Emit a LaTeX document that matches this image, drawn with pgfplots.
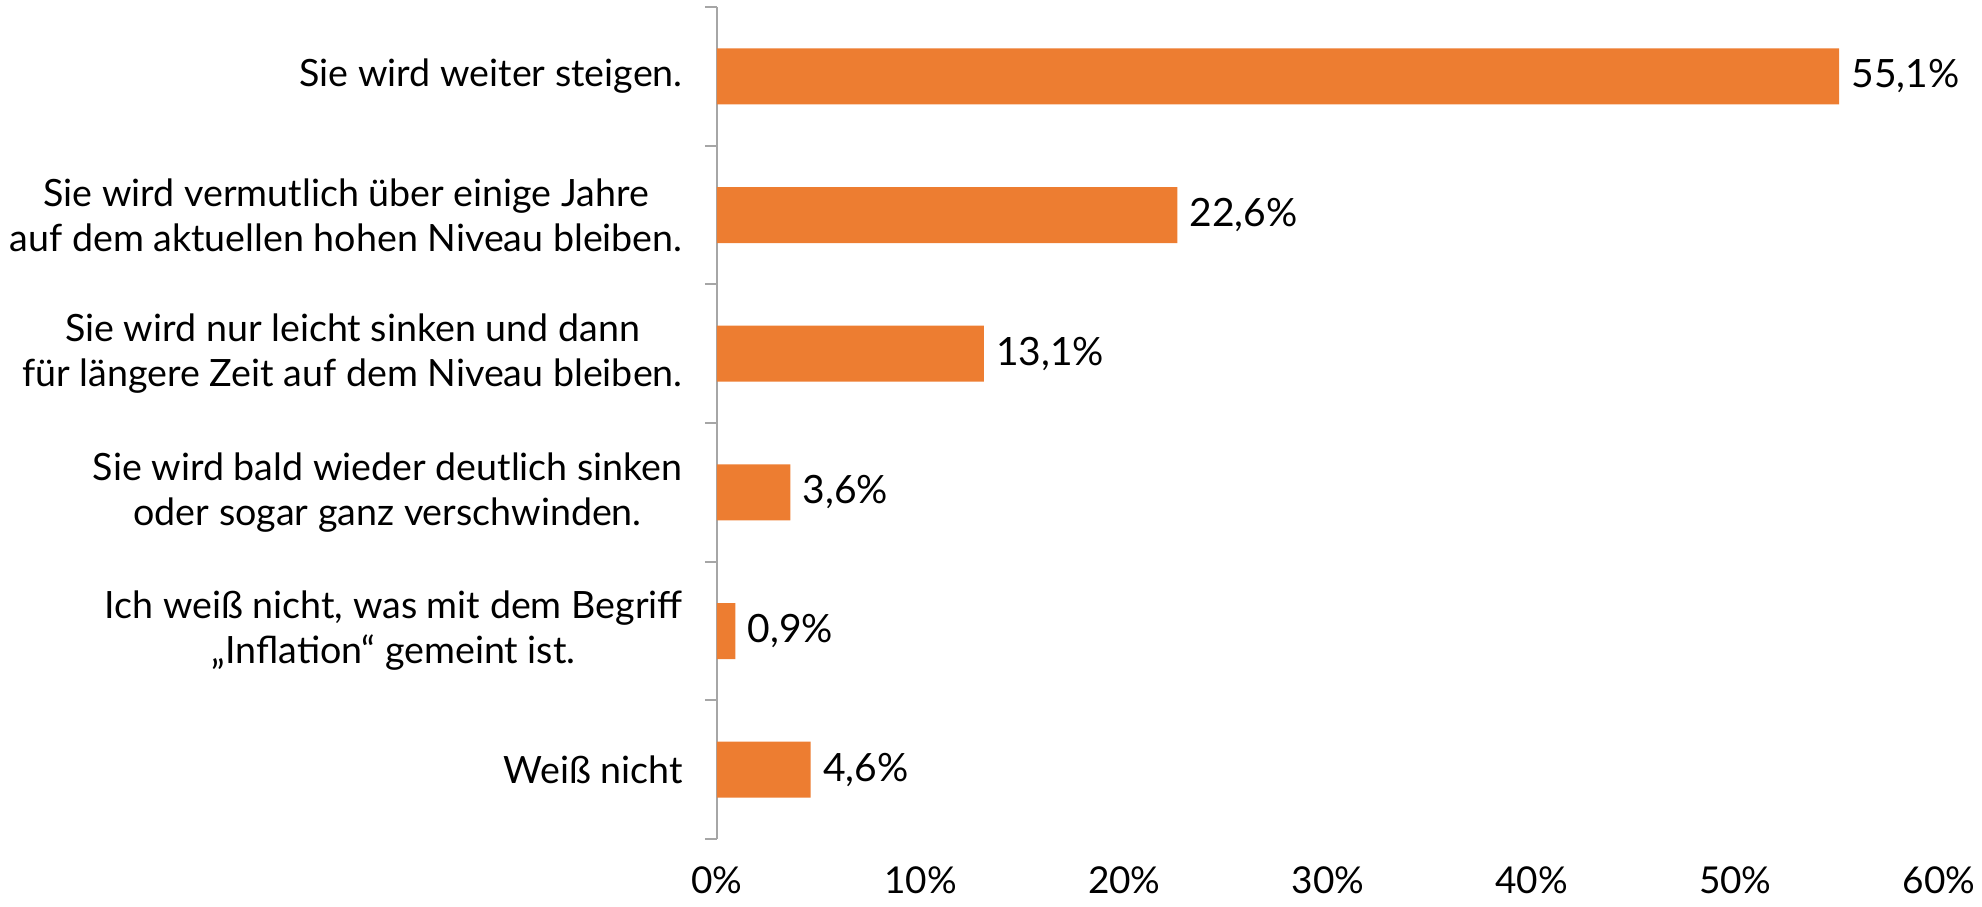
\documentclass[border=0pt]{standalone}
\usepackage{pgfplots}
\pgfplotsset{compat=1.18}
\usepackage{fontspec}
\setmainfont{Lato}
\definecolor{barorange}{HTML}{ED7D31}
\definecolor{axgray}{HTML}{A6A6A6}
\begin{document}
\begin{tikzpicture}
\begin{axis}[
  at={(358.5pt,33.5pt)}, anchor=south west,
  scale only axis, width=611pt, height=416pt,
  xmin=0, xmax=60, ymin=-0.5, ymax=5.5, y dir=reverse,
  xbar, bar width=28pt,
  axis x line=bottom, axis y line=left, axis line style={-},
  x axis line style={draw=none},
  y axis line style={draw=axgray, line width=1pt},
  xtick={0,10,...,60}, xtick style={draw=none},
  xticklabel={\pgfmathprintnumber{\tick}\%},
  xticklabel style={anchor=base, inner sep=0pt, yshift=-27pt},
  ytick={0,1,2,3,4,5},
  yticklabels={{Sie wird weiter steigen.},{Sie wird vermutlich über einige Jahre\\auf dem aktuellen hohen Niveau bleiben.},{Sie wird nur leicht sinken und dann\\für längere Zeit auf dem Niveau bleiben.},{Sie wird bald wieder deutlich sinken\\oder sogar ganz verschwinden.},{Ich weiß nicht, was mit dem Begriff\\„Inflation“ gemeint ist.},{Weiß nicht}},
  yticklabel style={align=center, anchor=east, inner sep=0pt, xshift=-17pt, font=\fontsize{18.8}{22.5}\selectfont},
  major tick length=0pt,
  extra y ticks={-0.5,0.5,1.5,2.5,3.5,4.5,5.5},
  extra y tick labels={},
  extra y tick style={major tick length=6pt, tick align=outside, tick style={draw=axgray, line width=1pt}},
  xticklabel style={font=\fontsize{18.5}{21}\selectfont},
  /pgf/number format/assume math mode=true,
  nodes near coords={\pgfmathprintnumber[fixed, fixed zerofill, precision=1, use comma]{\pgfplotspointmeta}\%},
  every node near coord/.append style={anchor=west, inner sep=0pt, xshift=6pt, font=\fontsize{19.5}{22}\selectfont, black},
  clip=false,
]
\addplot[fill=barorange, draw=none] coordinates {(55.1,0) (22.6,1) (13.1,2) (3.6,3) (0.9,4) (4.6,5)};
\end{axis}
\pgfresetboundingbox
\useasboundingbox (0,0) rectangle (991pt,453pt);
\end{tikzpicture}
\end{document}
